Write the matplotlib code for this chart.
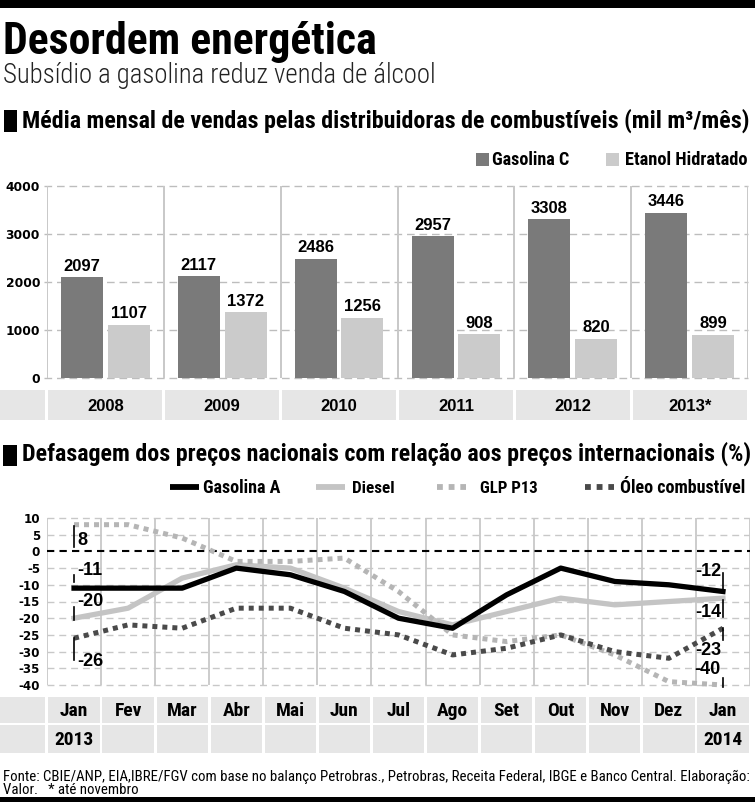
import matplotlib
matplotlib.use('Agg')
import matplotlib.pyplot as plt
from matplotlib.patches import Rectangle
from matplotlib.lines import Line2D
from matplotlib.transforms import blended_transform_factory as blend

# ---------------- data ----------------
years = ["2008", "2009", "2010", "2011", "2012", "2013*"]
gasolina_c = [2097, 2117, 2486, 2957, 3308, 3446]
etanol_hidratado = [1107, 1372, 1256, 908, 820, 899]
bar_ticks = [0, 1000, 2000, 3000, 4000]

months = ["Jan", "Fev", "Mar", "Abr", "Mai", "Jun", "Jul", "Ago", "Set", "Out", "Nov", "Dez", "Jan"]
period_years = ["2013", "", "", "", "", "", "", "", "", "", "", "", "2014"]
gasolina_a = [-11, -11, -11, -5, -7, -12, -20, -23, -13, -5, -9, -10, -12]
diesel = [-20, -17, -8, -4, -5, -11, -18, -22, -18, -14, -16, -15, -14]
glp_p13 = [8, 8, 4, -3, -3, -2, -12, -25, -27, -25, -31, -39, -40]
oleo_comb = [-26, -22, -23, -17, -17, -23, -25, -31, -29, -25, -30, -32, -23]
line_ticks = [10, 5, 0, -5, -10, -15, -20, -25, -30, -35, -40]

# ---------------- styling ----------------
W, H = 755, 802
COND = ['Roboto Condensed', 'DejaVu Sans']
SANS = ['Liberation Sans', 'DejaVu Sans']
DARK = '#7a7a7a'
LIGHT = '#cbcbcb'
BOX = '#e6e6e6'

fig = plt.figure(figsize=(W / 100, H / 100), dpi=100)
renderer = fig.canvas.get_renderer()

ov = fig.add_axes([0, 0, 1, 1], zorder=0)
ov.set_xlim(0, W)
ov.set_ylim(H, 0)
ov.axis('off')


def px_axes(x0, y0, x1, y1, **kw):
    return fig.add_axes([x0 / W, 1 - y1 / H, (x1 - x0) / W, (y1 - y0) / H], **kw)


def fit(x, y, s, width, size0=12, **kw):
    t = ov.text(x, y, s, fontsize=size0, **kw)
    bb = t.get_window_extent(renderer)
    t.set_fontsize(size0 * width / bb.width)
    return t


# top / bottom black bars
ov.add_patch(Rectangle((0, 0), W, 8, color='black', lw=0))
ov.add_patch(Rectangle((0, 797), W, 6, color='black', lw=0))

# titles
fit(3, 54, "Desordem energética", 375, 28, family=COND, weight=900, va='baseline')
fit(3, 83, "Subsídio a gasolina reduz venda de álcool", 434, 18, family=COND,
    weight='light', va='baseline', color='#222222')
ov.add_patch(Rectangle((4, 110), 13, 22, color='black', lw=0))
fit(22, 128, "Média mensal de vendas pelas distribuidoras de combustíveis (mil m³/mês)", 726, 15,
    family=COND, weight='bold', va='baseline')

# bar legend
ov.add_patch(Rectangle((476, 153), 13, 13, color=DARK, lw=0))
fit(492, 165, "Gasolina C", 77, 11, family=COND, weight='bold', va='baseline')
ov.add_patch(Rectangle((606, 153), 13, 13, color=LIGHT, lw=0))
fit(625, 165, "Etanol Hidratado", 122, 11, family=COND, weight='bold', va='baseline')

# ---------------- bar chart ----------------
ax1 = px_axes(47, 170, 748, 380, zorder=1)
ax1.patch.set_visible(False)
ppu = 192 / 4000
ax1.set_ylim(-2 / ppu, 4000 + 16 / ppu)
ax1.set_xlim(-0.5, len(years) - 0.5)
for s in ax1.spines.values():
    s.set_visible(False)
ax1.set_xticks([])
ax1.set_yticks(bar_ticks)
ax1.set_yticklabels([str(v) for v in bar_ticks], family='DejaVu Sans', weight='bold', fontsize=8.8)
ax1.tick_params(axis='y', length=0, pad=5)
for v in bar_ticks:
    ax1.axhline(v, color='#bdbdbd', lw=1, linestyle=(0, (5.5, 3.5)), zorder=1, xmin=-0.004, clip_on=False)
ax1.vlines([i - 0.5 for i in range(len(years) + 1)], 0, 4000, color='#c8c8c8', lw=1.4, zorder=1)
xs = list(range(len(years)))
ax1.bar([x - 0.2 for x in xs], gasolina_c, width=0.36, color=DARK, zorder=2)
ax1.bar([x + 0.2 for x in xs], etanol_hidratado, width=0.36, color=LIGHT, zorder=2)
for x, v in zip(xs, gasolina_c):
    ax1.annotate(str(v), (x - 0.2, v), xytext=(0, 2.5), textcoords='offset points', ha='center',
                 va='bottom', family=SANS, weight='bold', fontsize=12)
for x, v in zip(xs, etanol_hidratado):
    ax1.annotate(str(v), (x + 0.2, v), xytext=(0, 2.5), textcoords='offset points', ha='center',
                 va='bottom', family=SANS, weight='bold', fontsize=12)

# year row
tb1 = blend(ax1.transData, ov.transData)
ov.add_patch(Rectangle((0, 390), 45, 30, color=BOX, lw=0))
for i, y in enumerate(years):
    ov.add_patch(Rectangle((i - 0.5 + 0.012, 390), 1 - 0.024, 30, color=BOX, lw=0, transform=tb1))
    ov.text(i, 406.5, y, transform=tb1, ha='center', va='center', family=SANS, weight='bold', fontsize=12)

# ---------------- line chart ----------------
ov.add_patch(Rectangle((3, 445), 14, 21, color='black', lw=0))
fit(22, 461, "Defasagem dos preços nacionais com relação aos preços internacionais (%)", 730, 15,
    family=COND, weight='bold', va='baseline')

# legend
leg = [("Gasolina A", 'black', '-', 170, 203, 77),
       ("Diesel", '#c4c4c4', '-', 316, 352, 43),
       ("GLP P13", '#b5b5b5', (0, (1, 1)), 437, 480, 58),
       ("Óleo combustível", '#4a4a4a', (0, (1, 1)), 585, 620, 125)]
for name, col, ls, lx, tx, tw in leg:
    ov.add_line(Line2D([lx, lx + 29], [487, 487], color=col, lw=4.2, linestyle=ls,
                       solid_capstyle='butt', dash_capstyle='butt'))
    fit(tx, 493, name, tw, 11, family=COND, weight='bold', va='baseline')

ax2 = px_axes(47, 505, 750, 692, zorder=1)
ax2.patch.set_visible(False)
lppu = (685 - 518) / 50
ax2.set_ylim(-40 - 7 / lppu, 10 + 13 / lppu)
ax2.set_xlim(-0.5, len(months) - 0.5)
for s in ax2.spines.values():
    s.set_visible(False)
ax2.set_xticks([])
ax2.set_yticks(line_ticks)
ax2.set_yticklabels([str(v) for v in line_ticks], family='DejaVu Sans', weight='bold', fontsize=8.6)
ax2.tick_params(axis='y', length=0, pad=5)
for v in line_ticks:
    if v == 0:
        ax2.axhline(v, color='black', lw=1.5, linestyle=(0, (3.5, 2.5)), zorder=3)
    else:
        ax2.axhline(v, color='#c8c8c8', lw=1, linestyle=(0, (5, 3.5)), zorder=1)
ax2.vlines([i - 0.5 for i in range(len(months) + 1)], -40, 10, color='#c8c8c8', lw=1.3, zorder=1)

mx = list(range(len(months)))
ax2.plot(mx, diesel, color='#c4c4c4', lw=3.8, zorder=4, solid_joinstyle='round')
ax2.plot(mx, glp_p13, color='#b5b5b5', lw=3.6, linestyle=(0, (1, 1)), zorder=4)
ax2.plot(mx, oleo_comb, color='#4a4a4a', lw=3.6, linestyle=(0, (1, 1)), zorder=5)
ax2.plot(mx, gasolina_a, color='black', lw=3.8, zorder=6, solid_joinstyle='round')

# callouts (left: first month, right: last month)
left_callouts = [(glp_p13, 7.6, 1.3, 3.4), (gasolina_a, -7.1, -9.2, -5.6),
                 (diesel, -16.7, -20.5, -15.1), (oleo_comb, -26.0, -32.5, -33.1)]
for ser, y0, y1, ly in left_callouts:
    ax2.plot([0, 0], [y0, y1], color='black', lw=1.2, zorder=7)
    ax2.annotate(str(ser[0]), (0, ly), xytext=(2.5, 0), textcoords='offset points', ha='left',
                 va='center', family=SANS, weight='bold', fontsize=13, zorder=8)
right_callouts = [(gasolina_a, -6.5, -12.2, -5.9), (diesel, -14.6, -19.6, -18.4),
                  (oleo_comb, -22.9, -26.5, -29.8), (glp_p13, -37.9, -40.6, -35.5)]
last = len(months) - 1
for ser, y0, y1, ly in right_callouts:
    ax2.plot([last, last], [y0, y1], color='black', lw=1.2, zorder=7)
    ax2.annotate(str(ser[-1]), (last, ly), xytext=(-1.5, 0), textcoords='offset points', ha='right',
                 va='center', family=SANS, weight='bold', fontsize=13, zorder=8)

# month / year rows
tb2 = blend(ax2.transData, ov.transData)
ov.add_patch(Rectangle((0, 697), 45, 26, color=BOX, lw=0))
ov.add_patch(Rectangle((0, 725), 45, 28, color=BOX, lw=0))
for i, (m, yr) in enumerate(zip(months, period_years)):
    ov.add_patch(Rectangle((i - 0.5 + 0.025, 697), 1 - 0.05, 26, color=BOX, lw=0, transform=tb2))
    ov.add_patch(Rectangle((i - 0.5 + 0.025, 725), 1 - 0.05, 28, color=BOX, lw=0, transform=tb2))
    ov.text(i, 711, m, transform=tb2, ha='center', va='center', family=COND, weight='bold', fontsize=14)
    if yr:
        ov.text(i, 740, yr, transform=tb2, ha='center', va='center', family=COND, weight='bold',
                fontsize=14)

# footer
fit(3, 781, "Fonte: CBIE/ANP, EIA,IBRE/FGV com base no balanço Petrobras., Petrobras, Receita Federal, "
            "IBGE e Banco Central. Elaboração:", 749, 9, family=COND, va='baseline')
ov.text(3, 793.5, "Valor.   * até novembro", family=COND, va='baseline',
        fontsize=ov.texts[-1].get_fontsize())

fig.savefig('out.png', dpi=100)
